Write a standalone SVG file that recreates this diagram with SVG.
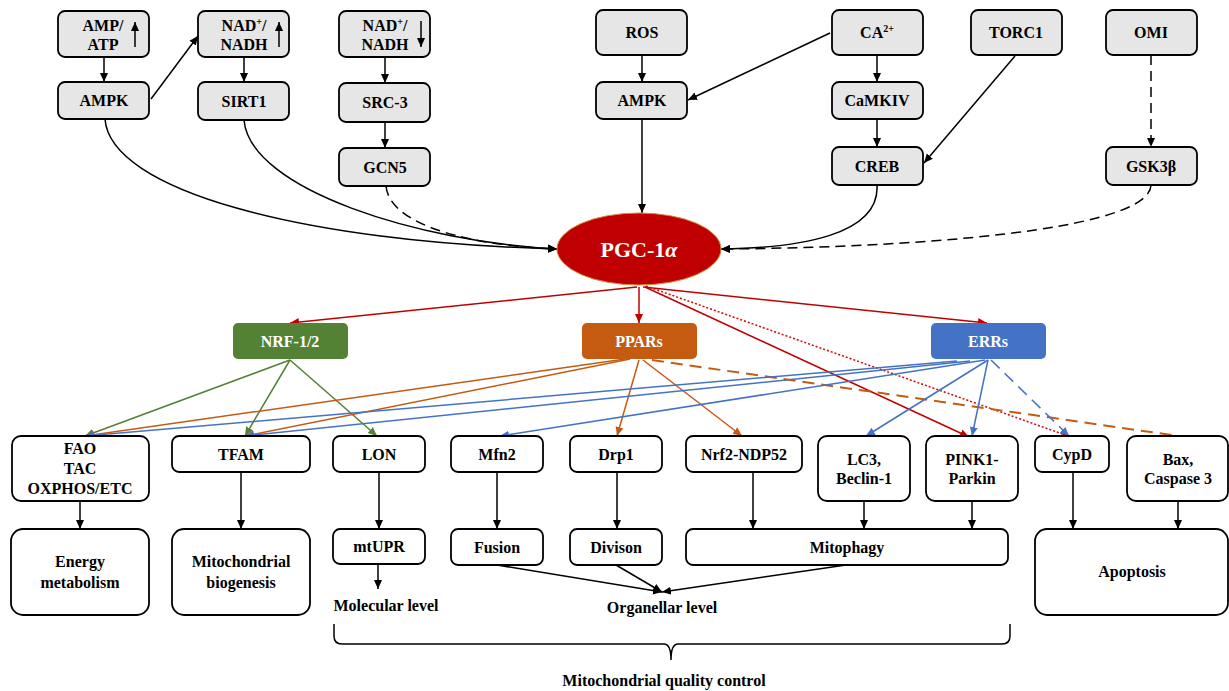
<svg xmlns="http://www.w3.org/2000/svg" width="1229" height="691" viewBox="0 0 1229 691" font-family="'Liberation Serif', 'Times New Roman', serif">
<style>
.g{fill:#e7e6e6;stroke:#000;stroke-width:1.8}
.w{fill:#fff;stroke:#000;stroke-width:1.8}
.t{font-weight:bold;font-size:16px;fill:#000;text-anchor:middle}
.tw{font-weight:bold;font-size:16px;fill:#fff;text-anchor:middle}
.k{fill:none;stroke:#000;stroke-width:1.5;marker-end:url(#mk)}
.kd{fill:none;stroke:#000;stroke-width:1.5;stroke-dasharray:10,6;marker-end:url(#mk)}
.r{fill:none;stroke:#c00000;stroke-width:1.5;marker-end:url(#mr)}
.rd{fill:none;stroke:#e00000;stroke-width:1.5;stroke-dasharray:2,2;marker-end:url(#mr)}
.gr{fill:none;stroke:#548235;stroke-width:1.5;marker-end:url(#mg)}
.o{fill:none;stroke:#c55a11;stroke-width:1.5;marker-end:url(#mo)}
.od{fill:none;stroke:#c55a11;stroke-width:2;stroke-dasharray:12,7}
.b{fill:none;stroke:#4472c4;stroke-width:1.5;marker-end:url(#mb)}
.bd{fill:none;stroke:#4472c4;stroke-width:1.5;stroke-dasharray:12,7;marker-end:url(#mb)}
</style>
<defs>
<marker id="mk" markerUnits="userSpaceOnUse" markerWidth="10" markerHeight="10" refX="9" refY="4.5" orient="auto"><path d="M0,0.5 L9,4.5 L0,8.5 z" fill="#000"/></marker>
<marker id="mr" markerUnits="userSpaceOnUse" markerWidth="10" markerHeight="10" refX="9" refY="4.5" orient="auto"><path d="M0,0.5 L9,4.5 L0,8.5 z" fill="#c00000"/></marker>
<marker id="mg" markerUnits="userSpaceOnUse" markerWidth="10" markerHeight="10" refX="9" refY="4.5" orient="auto"><path d="M0,0.5 L9,4.5 L0,8.5 z" fill="#548235"/></marker>
<marker id="mo" markerUnits="userSpaceOnUse" markerWidth="10" markerHeight="10" refX="9" refY="4.5" orient="auto"><path d="M0,0.5 L9,4.5 L0,8.5 z" fill="#c55a11"/></marker>
<marker id="mb" markerUnits="userSpaceOnUse" markerWidth="10" markerHeight="10" refX="9" refY="4.5" orient="auto"><path d="M0,0.5 L9,4.5 L0,8.5 z" fill="#4472c4"/></marker>
</defs>
<rect width="1229" height="691" fill="#fff"/>

<g id="connectors">
<path class="k" d="M104,57 V82"/>
<path class="k" d="M151,99 L198,36"/>
<path class="k" d="M244,57 V82"/>
<path class="k" d="M385,57 V83"/>
<path class="k" d="M385,122 V148"/>
<path class="k" d="M642,55 V82"/>
<path class="k" d="M830,33 L688,100"/>
<path class="k" d="M877,55 V82"/>
<path class="k" d="M877,119 V147"/>
<path class="k" d="M1015,56 L924,163"/>
<path class="kd" d="M1151,55 V147"/>
<path class="k" d="M642,119 V213"/>
<path class="k" d="M105,119 C110,190 300,242 557,249"/>
<path class="k" d="M244,120 C250,190 420,242 557,249"/>
<path class="kd" d="M386,186 C390,228 480,246 557,249"/>
<path class="k" d="M877,185 C880,235 800,248 721,249"/>
<path class="kd" d="M1151,185 C1150,232 900,248 721,249"/>

<path class="r" d="M637,287 L290,323"/>
<path class="r" d="M639,287 V323"/>
<path class="r" d="M643,287 L987,323"/>
<path class="r" d="M645,287 L969,437"/>
<path class="rd" d="M646,286 L1071,437"/>

<path class="gr" d="M290,360 L85,436"/>
<path class="gr" d="M290,360 L245,436"/>
<path class="gr" d="M290,360 L377,436"/>

<path class="o" d="M625,359 L85,436"/>
<path class="o" d="M630,359 L245,436"/>
<path class="o" d="M639,360 L617,436"/>
<path class="o" d="M643,360 L742,436"/>
<path class="od" d="M652,360 L1178,436"/>

<path class="b" d="M957,361 L85,436"/>
<path class="b" d="M970,361 L245,436"/>
<path class="b" d="M985,360 L500,436"/>
<path class="b" d="M988,360 L866,436"/>
<path class="b" d="M988,360 L972,436"/>
<path class="bd" d="M991,360 L1069,436"/>

<path class="k" d="M80,501 V529"/>
<path class="k" d="M241,472 V529"/>
<path class="k" d="M379,472 V529"/>
<path class="k" d="M378,564 V589"/>
<path class="k" d="M497,472 V529"/>
<path class="k" d="M617,472 V529"/>
<path class="k" d="M753,472 V529"/>
<path class="k" d="M864,501 V529"/>
<path class="k" d="M972,501 V529"/>
<path class="k" d="M1073,472 V529"/>
<path class="k" d="M1178,501 V529"/>
<path class="k" d="M497,565 L662,592"/>
<path class="k" d="M616,565 L662,592"/>
<path class="k" d="M846,565 L662,592"/>
<path d="M334,624 V636 Q334,644 342,644 L664,644 Q671,644 671,660 Q671,644 678,644 L1002,644 Q1010,644 1010,636 V624" fill="none" stroke="#000" stroke-width="1.5"/>
</g>

<g id="amp-atp"><rect class="g" x="58" y="11" width="91" height="46" rx="7"/><text class="t" x="103" y="31">AMP/</text><text class="t" x="103" y="50">ATP</text><path class="k" d="M135,47 V22"/></g>
<g id="ampk1"><rect class="g" x="58" y="82" width="91" height="37" rx="7"/><text class="t" x="104" y="106">AMPK</text></g>
<g id="nad-up"><rect class="g" x="198" y="11" width="91" height="46" rx="7"/><text class="t" x="244" y="31">NAD<tspan font-size="10" dy="-6">+</tspan><tspan dy="6">/</tspan></text><text class="t" x="244" y="50">NADH</text><path class="k" d="M279,47 V22"/></g>
<g id="sirt1"><rect class="g" x="198" y="82" width="91" height="38" rx="7"/><text class="t" x="244" y="107">SIRT1</text></g>
<g id="nad-down"><rect class="g" x="339" y="11" width="91" height="46" rx="7"/><text class="t" x="385" y="31">NAD<tspan font-size="10" dy="-6">+</tspan><tspan dy="6">/</tspan></text><text class="t" x="385" y="50">NADH</text><path class="k" d="M421,21 V47"/></g>
<g id="src3"><rect class="g" x="339" y="83" width="91" height="39" rx="7"/><text class="t" x="385" y="108">SRC-3</text></g>
<g id="gcn5"><rect class="g" x="339" y="148" width="91" height="38" rx="7"/><text class="t" x="385" y="173">GCN5</text></g>
<g id="ros"><rect class="g" x="596" y="10" width="91" height="45" rx="7"/><text class="t" x="642" y="38">ROS</text></g>
<g id="ampk2"><rect class="g" x="596" y="82" width="91" height="37" rx="7"/><text class="t" x="642" y="106">AMPK</text></g>
<g id="ca"><rect class="g" x="832" y="10" width="91" height="45" rx="7"/><text class="t" x="877" y="38">CA<tspan font-size="10" dy="-6">2+</tspan></text></g>
<g id="camkiv"><rect class="g" x="832" y="82" width="91" height="37" rx="7"/><text class="t" x="877" y="106">CaMKIV</text></g>
<g id="creb"><rect class="g" x="832" y="147" width="91" height="38" rx="7"/><text class="t" x="877" y="172">CREB</text></g>
<g id="torc1"><rect class="g" x="971" y="10" width="91" height="45" rx="7"/><text class="t" x="1016" y="38">TORC1</text></g>
<g id="omi"><rect class="g" x="1106" y="10" width="91" height="45" rx="7"/><text class="t" x="1151" y="38">OMI</text></g>
<g id="gsk3b"><rect class="g" x="1106" y="147" width="91" height="38" rx="7"/><text class="t" x="1151" y="172">GSK3β</text></g>

<g id="pgc1a"><ellipse cx="639" cy="249" rx="82" ry="36" fill="#c00000" stroke="#d08a3a" stroke-width="1"/><text x="639" y="257" text-anchor="middle" font-weight="bold" font-size="22" fill="#fff">PGC-1<tspan font-style="italic">α</tspan></text></g>

<g id="nrf"><rect x="233" y="323" width="115" height="36" rx="5" fill="#548235"/><text class="tw" x="290" y="347">NRF-1/2</text></g>
<g id="ppars"><rect x="582" y="323" width="115" height="36" rx="5" fill="#c55a11"/><text class="tw" x="639" y="347">PPARs</text></g>
<g id="errs"><rect x="931" y="323" width="115" height="36" rx="5" fill="#4472c4"/><text class="tw" x="988" y="347">ERRs</text></g>

<g id="fao"><rect class="w" x="12" y="436" width="137" height="65" rx="9"/><text class="t" x="80" y="454">FAO</text><text class="t" x="80" y="474">TAC</text><text class="t" x="80" y="494">OXPHOS/ETC</text></g>
<g id="tfam"><rect class="w" x="172" y="436" width="138" height="36" rx="7"/><text class="t" x="241" y="460">TFAM</text></g>
<g id="lon"><rect class="w" x="333" y="436" width="92" height="36" rx="7"/><text class="t" x="379" y="460">LON</text></g>
<g id="mfn2"><rect class="w" x="451" y="436" width="92" height="36" rx="7"/><text class="t" x="497" y="460">Mfn2</text></g>
<g id="drp1"><rect class="w" x="570" y="436" width="92" height="36" rx="7"/><text class="t" x="616" y="460">Drp1</text></g>
<g id="nrf2"><rect class="w" x="686" y="436" width="116" height="36" rx="7"/><text class="t" x="744" y="460">Nrf2-NDP52</text></g>
<g id="lc3"><rect class="w" x="818" y="436" width="92" height="65" rx="9"/><text class="t" x="864" y="465">LC3,</text><text class="t" x="864" y="484">Beclin-1</text></g>
<g id="pink1"><rect class="w" x="926" y="436" width="92" height="65" rx="9"/><text class="t" x="972" y="465">PINK1-</text><text class="t" x="972" y="484">Parkin</text></g>
<g id="cypd"><rect class="w" x="1035" y="436" width="74" height="36" rx="7"/><text class="t" x="1072" y="460">CypD</text></g>
<g id="bax"><rect class="w" x="1127" y="436" width="101" height="65" rx="9"/><text class="t" x="1178" y="465">Bax,</text><text class="t" x="1178" y="484">Caspase 3</text></g>

<g id="energy"><rect class="w" x="11" y="529" width="138" height="86" rx="12"/><text class="t" x="80" y="567">Energy</text><text class="t" x="80" y="588">metabolism</text></g>
<g id="biogenesis"><rect class="w" x="172" y="529" width="138" height="86" rx="12"/><text class="t" x="241" y="567">Mitochondrial</text><text class="t" x="241" y="588">biogenesis</text></g>
<g id="mtupr"><rect class="w" x="333" y="529" width="92" height="35" rx="7"/><text class="t" x="379" y="552">mtUPR</text></g>
<g id="fusion"><rect class="w" x="451" y="529" width="92" height="36" rx="7"/><text class="t" x="497" y="553">Fusion</text></g>
<g id="divison"><rect class="w" x="570" y="529" width="92" height="36" rx="7"/><text class="t" x="616" y="553">Divison</text></g>
<g id="mitophagy"><rect class="w" x="686" y="529" width="322" height="36" rx="7"/><text class="t" x="847" y="553">Mitophagy</text></g>
<g id="apoptosis"><rect class="w" x="1035" y="529" width="193" height="86" rx="12"/><text class="t" x="1132" y="577">Apoptosis</text></g>

<g id="labels">
<text class="t" x="386" y="611">Molecular level</text>
<text class="t" x="662" y="613">Organellar level</text>
<text class="t" x="664" y="686">Mitochondrial quality control</text>
</g>
</svg>
